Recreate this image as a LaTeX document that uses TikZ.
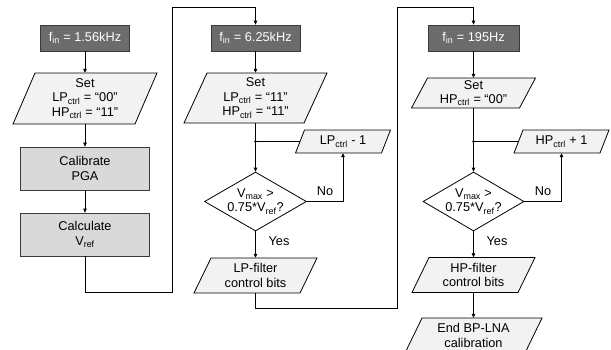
\documentclass[tikz,border=0pt]{standalone}
\usepackage{fontspec}
\setmainfont{Liberation Sans}
\usetikzlibrary{shapes.geometric,arrows.meta}
\definecolor{darkbox}{HTML}{6C6C6C}
\definecolor{procfill}{HTML}{D9D9D9}
\definecolor{parafill}{HTML}{F2F2F2}
\definecolor{edgegray}{HTML}{3A3A3A}
\newcommand\sub[1]{\textsubscript{#1}}
% name, x, y, midwidth, height, slant, text
\newcommand\parabox[7]{%
  \draw[pshape] ({#2-#4/2-#6/2},{#3+#5/2}) -- ({#2+#4/2-#6/2},{#3+#5/2})
     -- ({#2+#4/2+#6/2},{#3-#5/2}) -- ({#2-#4/2+#6/2},{#3-#5/2}) -- cycle;
  \node[ptext, minimum width=#4bp, minimum height=#5bp] (#1) at (#2,#3) {#7};}
\begin{document}
\begin{tikzpicture}[x=1bp,y=-1bp,
  font=\fontsize{12.8}{14.5}\selectfont,
  finbox/.style={draw=edgegray, fill=darkbox, text=white, line width=0.8bp,
    minimum height=26bp, inner sep=0pt},
  procbox/.style={draw=edgegray, fill=procfill, line width=0.8bp,
    minimum width=129bp, minimum height=43bp, inner sep=0pt, align=center},
  pshape/.style={draw=black, fill=parafill, line width=0.8bp, line join=miter},
  ptext/.style={inner sep=0pt, align=center},
  decbox/.style={shape=diamond, draw=black, fill=white, line width=0.8bp, inner sep=0pt},
  conn/.style={draw=black, line width=0.8bp},
  arr/.style={conn, -{Triangle[length=4bp,width=3.6bp]}},
  lbl/.style={inner sep=0pt},
  jdot/.style={fill=black}]
\useasboundingbox (0,0) rectangle (611,349);

% column 1
\node[finbox, minimum width=89bp] (fin1) at (85,38) {f\sub{in} = 1.56kHz};
\parabox{set1}{85}{98.5}{122}{51}{22}{Set\\LP\sub{ctrl} = “00”\\HP\sub{ctrl} = “11”}
\node[procbox] (cal) at (85,168.5) {Calibrate\\PGA};
\node[procbox] (calc) at (85,234.5) {Calculate\\V\sub{ref}};

% column 2
\node[finbox, minimum width=89bp] (fin2) at (255.5,38) {f\sub{in} = 6.25kHz};
\parabox{set2}{255.5}{98}{120}{50}{23}{Set\\LP\sub{ctrl} = “11”\\HP\sub{ctrl} = “11”}
\parabox{lpm}{343}{141.5}{86}{23}{9}{LP\sub{ctrl} - 1}
\node[decbox, minimum width=102bp, minimum height=59bp,
  label={[align=center, inner sep=0pt]center:V\sub{max} >\\0.75*V\sub{ref}?}] (dia2) at (255.5,201.5) {};
\parabox{lpf}{255.5}{275.5}{106}{35}{17}{LP-filter\\control bits}

% column 3
\node[finbox, minimum width=91bp] (fin3) at (473.5,38) {f\sub{in} = 195Hz};
\parabox{set3}{473.5}{93}{108}{30}{16}{Set\\HP\sub{ctrl} = “00”}
\parabox{hpm}{561.5}{141.5}{86}{23}{9}{HP\sub{ctrl} + 1}
\node[decbox, minimum width=101bp, minimum height=59bp,
  label={[align=center, inner sep=0pt]center:V\sub{max} >\\0.75*V\sub{ref}?}] (dia3) at (473.5,201.5) {};
\parabox{hpf}{473.5}{275}{106}{35}{17}{HP-filter\\control bits}
\parabox{endb}{473.5}{335.5}{120}{35}{17}{End BP-LNA\\calibration}

% labels
\node[lbl] (no2) at (325,191) {No};
\node[lbl] (yes2) at (279,241) {Yes};
\node[lbl] (no3) at (543,191) {No};
\node[lbl] (yes3) at (497,241) {Yes};

% route coordinates
\coordinate (r1b) at (172,292);
\coordinate (r1t) at (172,7);
\coordinate (r2b) at (397,308);
\coordinate (r2t) at (397,7);
\coordinate (j2) at (set2.south |- lpm.west);
\coordinate (j3) at (set3.south |- hpm.west);

% connectors column 1
\draw[arr] (fin1.south) -- (set1.north);
\draw[arr] (set1.south) -- (cal.north);
\draw[arr] (cal.south) -- (calc.north);
\draw[arr] (calc.south) |- (r1b) -- (r1t) -| (fin2.north);

% connectors column 2
\draw[arr] (fin2.south) -- (set2.north);
\draw[arr] (set2.south) -- (dia2.north);
\draw[conn] (lpm.west) -- (j2);
\fill[jdot] (j2) circle (1.4bp);
\draw[arr] (dia2.east) -| (lpm.south);
\draw[arr] (dia2.south) -- (lpf.north);
\draw[arr] (lpf.south) |- (r2b) -- (r2t) -| (fin3.north);

% connectors column 3
\draw[arr] (fin3.south) -- (set3.north);
\draw[arr] (set3.south) -- (dia3.north);
\draw[conn] (hpm.west) -- (j3);
\fill[jdot] (j3) circle (1.4bp);
\draw[arr] (dia3.east) -| (hpm.south);
\draw[arr] (dia3.south) -- (hpf.north);
\draw[arr] (hpf.south) -- (endb.north);
\end{tikzpicture}
\end{document}
